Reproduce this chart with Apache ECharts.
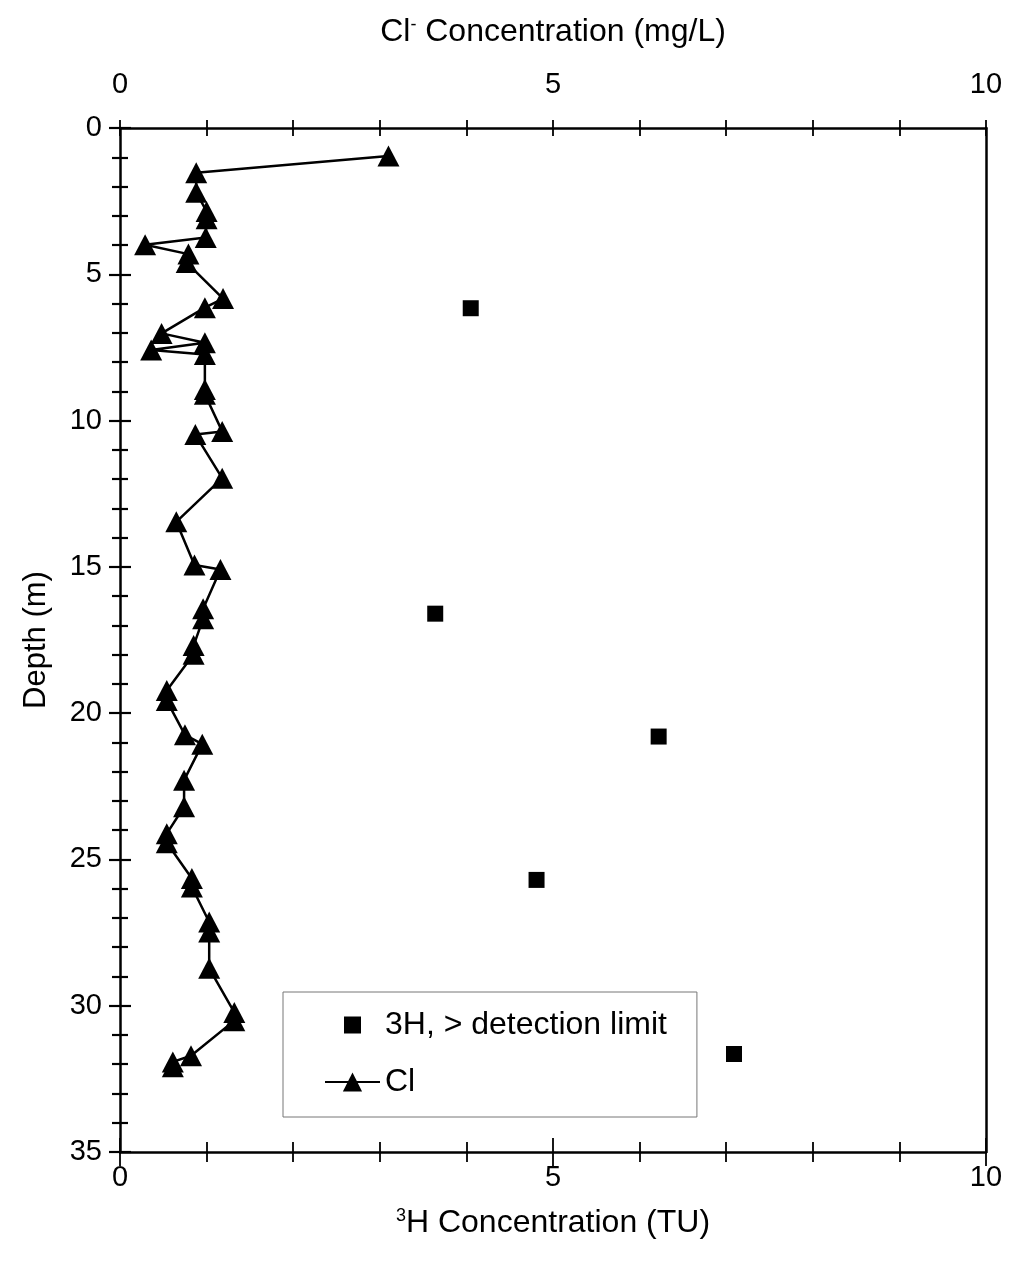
<!DOCTYPE html>
<html>
<head>
<meta charset="utf-8">
<script src="https://cdn.jsdelivr.net/npm/echarts@6/dist/echarts.min.js"></script>
<style>
  html, body { margin: 0; padding: 0; background: #fff; }
  #chart { width: 1010px; height: 1270px; }
</style>
</head>
<body>
<div id="chart"></div>
<script>
// Cl- profile (mg/L vs depth m), read top to bottom in plotting order
const clConc = [3.1, 0.88, 0.88, 1.0, 1.0, 0.99, 0.29, 0.79, 0.77, 1.19, 0.98, 0.48, 0.98, 0.36, 0.98,
  0.98, 0.98, 1.18, 0.87, 1.18, 0.65, 0.86, 1.16, 0.96, 0.96, 0.85, 0.85, 0.54, 0.54, 0.75, 0.95,
  0.74, 0.74, 0.54, 0.54, 0.83, 0.83, 1.03, 1.03, 1.03, 1.32, 1.32, 0.82, 0.61, 0.61]
const clDepth = [0.96, 1.53, 2.2, 2.85, 3.1, 3.74, 3.99, 4.31, 4.6, 5.83, 6.14, 7.02, 7.34, 7.59, 7.74,
  8.94, 9.1, 10.37, 10.48, 11.97, 13.46, 14.94, 15.09, 16.43, 16.77, 17.69, 17.99, 19.23, 19.57, 20.74, 21.06,
  22.29, 23.2, 24.12, 24.43, 25.65, 25.94, 27.14, 27.48, 28.72, 30.23, 30.51, 31.71, 31.92, 32.09]

// tritium above detection limit (TU vs depth m)
const h3Conc = [4.05, 3.64, 6.22, 4.81, 7.09]
const h3Depth = [6.16, 16.6, 20.8, 25.7, 31.65]

const xTicks = [0, 5, 10]
const depthMax = 35

const clName = 'Cl'
const h3Name = '3H, > detection limit'

const clData = clConc.map((v, i) => [v, clDepth[i]])
const h3Data = h3Conc.map((v, i) => [v, h3Depth[i]])

const font = 'Liberation Sans, Arial, sans-serif'
const black = '#000'

const charts = echarts.init(document.getElementById('chart'))

function xAx (pos, withLabels, tickLen, majorLen) {
  return {
    type: 'value',
    position: pos,
    min: xTicks[0],
    max: xTicks[xTicks.length - 1],
    interval: 5,
    axisLine: { show: withLabels, onZero: false, lineStyle: { color: black, width: 2.5 } },
    axisTick: { show: true, inside: !withLabels, length: majorLen, lineStyle: { color: black, width: 1.8 } },
    minorTick: { show: true, splitNumber: 5, length: tickLen, lineStyle: { color: black, width: 1.8 } },
    splitLine: { show: false },
    axisLabel: { show: withLabels, color: black, fontSize: 29, fontFamily: font, margin: pos === 'top' ? 29 : 11 }
  }
}

const supStyle = { fontSize: 18, verticalAlign: 'top', padding: [0, 0, 14, 0], color: black, fontFamily: font }

const xTopMain = xAx('top', true, 8, 8)
xTopMain.name = 'Cl{sup|-} Concentration (mg/L)'
xTopMain.nameLocation = 'middle'
xTopMain.nameGap = 80
xTopMain.nameTextStyle = { color: black, fontSize: 32, fontFamily: font, rich: { sup: supStyle } }

const xBotMain = xAx('bottom', true, 10, 14)
xBotMain.name = '{sup|3}H Concentration (TU)'
xBotMain.nameLocation = 'middle'
xBotMain.nameGap = 55
xBotMain.nameTextStyle = { color: black, fontSize: 32, fontFamily: font, rich: { sup: supStyle } }

function yAx (pos, withLabels, inside) {
  return {
    type: 'value',
    position: pos,
    inverse: true,
    min: 0,
    max: depthMax,
    interval: 5,
    axisLine: { show: pos === 'right' || withLabels, onZero: false, lineStyle: { color: black, width: 2.5 } },
    axisTick: { show: pos !== 'right', inside: inside, length: 11, lineStyle: { color: black, width: 2.2 } },
    minorTick: { show: pos !== 'right', splitNumber: 5, length: 8, lineStyle: { color: black, width: 2.2 } },
    splitLine: { show: false },
    axisLabel: { show: withLabels, color: black, fontSize: 29, fontFamily: font, margin: 18 }
  }
}

const yMain = yAx('left', true, false)
yMain.name = 'Depth (m)'
yMain.nameLocation = 'middle'
yMain.nameGap = 68
yMain.nameTextStyle = { color: black, fontSize: 31, fontFamily: font }

charts.setOption({
  animation: false,
  backgroundColor: '#fff',
  grid: { left: 120, right: 24, top: 128, bottom: 118, containLabel: false },
  xAxis: [xTopMain, xAx('top', false, 8, 8), xBotMain, xAx('bottom', false, 10, 14)],
  yAxis: [yMain, yAx('left', false, true), yAx('right', false, false)],
  legend: {
    orient: 'vertical',
    left: 283,
    top: 992,
    data: [
      { name: h3Name, icon: 'path://M0,0M24,24M3.5,3.5H20.5V20.5H3.5Z' },
      { name: clName }
    ],
    itemWidth: 55,
    itemHeight: 24,
    itemGap: 25,
    padding: [17, 30, 19, 41],
    borderColor: '#777',
    borderWidth: 1,
    backgroundColor: '#fff',
    selectedMode: false,
    textStyle: { color: black, fontSize: 32, fontFamily: font, lineHeight: 29 }
  },
  series: [
    {
      name: clName,
      type: 'line',
      xAxisIndex: 0,
      yAxisIndex: 0,
      data: clData,
      symbol: 'triangle',
      symbolSize: [22, 21],
      itemStyle: { color: black, opacity: 1 },
      lineStyle: { color: black, width: 2.5 },
      z: 3
    },
    {
      name: h3Name,
      type: 'scatter',
      xAxisIndex: 2,
      yAxisIndex: 0,
      data: h3Data,
      symbol: 'rect',
      symbolSize: 16,
      itemStyle: { color: black, opacity: 1 },
      z: 3
    }
  ]
})
</script>
</body>
</html>
